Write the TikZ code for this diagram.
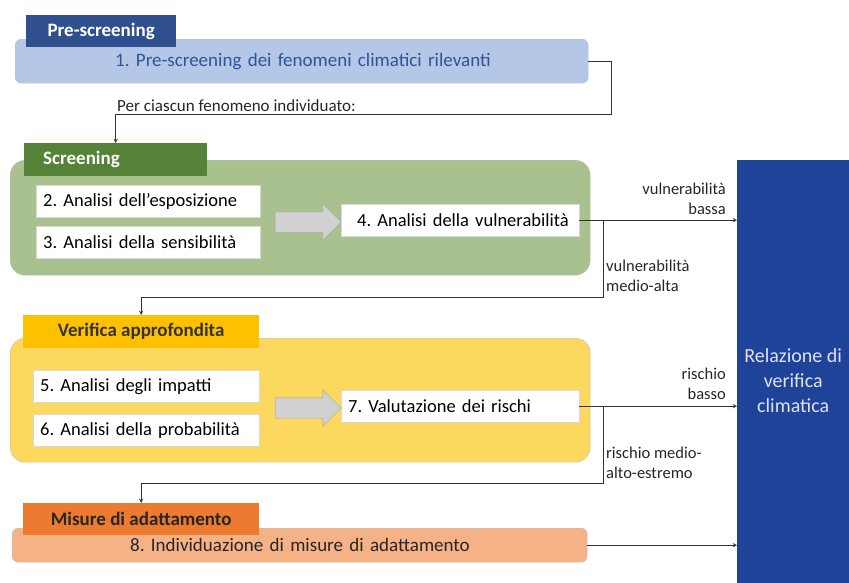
\documentclass[tikz,border=0pt]{standalone}
\usepackage{fontspec}
\setmainfont{Carlito}
\usepackage{tikz}
\usetikzlibrary{positioning,arrows,shapes.arrows}
\frenchspacing

\definecolor{prsblue}{HTML}{2F4F8E}
\definecolor{prslight}{HTML}{B4C7E7}
\definecolor{prstext}{HTML}{2F5597}
\definecolor{scrdark}{HTML}{558236}
\definecolor{scrlight}{HTML}{A9C08F}
\definecolor{verdark}{HTML}{FFC000}
\definecolor{verlight}{HTML}{FDD85E}
\definecolor{misdark}{HTML}{EC7A2F}
\definecolor{mislight}{HTML}{F5B287}
\definecolor{reldark}{HTML}{1E4399}

\begin{document}
\begin{tikzpicture}[x=1pt,y=-1pt,
    panel/.style={draw=black!25, anchor=north west, inner sep=0pt},
    tabbox/.style={anchor=north west, inner sep=0pt, font=\fontsize{19}{22}\selectfont\bfseries},
    stepbox/.style={fill=white, draw=black!15, anchor=north west, inner xsep=7pt, inner ysep=0pt,
        align=left, minimum height=32pt, font=\fontsize{18.5}{22}\selectfont},
    grayarrow/.style={single arrow, fill=black!18, draw=black!35, inner xsep=0pt, inner ysep=10pt,
        minimum width=36pt, minimum height=66pt, single arrow head extend=8pt},
    lbl/.style={inner sep=0pt, font=\fontsize{16.5}{20}\selectfont, text=black!85},
    link/.style={color=black!80, line width=0.9pt, >=stealth}]
    \useasboundingbox (0,0) rectangle (849,582);

    % pre-screening
    \node[panel,fill=prslight,rounded corners=6pt,minimum width=573pt,minimum height=44pt,
        text width=573pt,align=left,text=prstext,font=\fontsize{19}{22}\selectfont] at (15,39) (a1c04e7f) {\hspace*{100pt}1. Pre-screening dei fenomeni climatici rilevanti};
    \node[tabbox,fill=prsblue,text=white,minimum width=150pt,minimum height=32pt] at (26,15) (5d2b9e01) {Pre-screening};

    % screening
    \node[panel,fill=scrlight,rounded corners=15pt,minimum width=580pt,minimum height=115pt] at (10,160) (7e3f02ac) {};
    \node[tabbox,fill=scrdark,text=white,minimum width=183pt,minimum height=33pt,
        text width=145pt,inner xsep=19pt,align=left] at (24,143) (c8d1a447) {Screening};
    \node[stepbox,text width=210pt] at (36,185) (1f6b3d92) {2. Analisi dell’esposizione};
    \node[stepbox,text width=210pt] at (36,226) (b47e0c15) {3. Analisi della sensibilità};
    \node[grayarrow] at (303,222) (e2a95f30) {};
    \node[stepbox,text width=224pt] at (341,204) (4c08b7d6) {\hspace*{9pt}4. Analisi della vulnerabilità};

    % verifica approfondita
    \node[panel,fill=verlight,rounded corners=15pt,minimum width=580pt,minimum height=124pt] at (10,338) (93ad6e28) {};
    \node[tabbox,fill=verdark,text=black!80,minimum width=236pt,minimum height=33pt] at (23,315) (0b5c4f71) {Verifica approfondita};
    \node[stepbox,text width=212pt] at (33,370) (d6e1a80c) {5. Analisi degli impatti};
    \node[stepbox,text width=212pt] at (33,414) (58f9c2b3) {6. Analisi della probabilità};
    \node[grayarrow] at (303,408) (a7d34e9f) {};
    \node[stepbox,text width=224pt] at (341,390) (6e0b1d54) {7. Valutazione dei rischi};

    % misure di adattamento
    \node[panel,fill=mislight,rounded corners=6pt,minimum width=575pt,minimum height=34pt,
        text width=575pt,align=left,text=black!85,font=\fontsize{19}{22}\selectfont] at (12,528) (f0c72a39) {\hspace*{118pt}8. Individuazione di misure di adattamento};
    \node[tabbox,fill=misdark,text=black!85,minimum width=236pt,minimum height=32pt] at (23,503) (2d8e6b17) {Misure di adattamento};

    % relazione
    \node[fill=reldark,anchor=north west,inner sep=0pt,minimum width=112pt,minimum height=440pt,
        text=white!88!blue,align=center,font=\fontsize{20}{25}\selectfont] at (737,160) (9b41f5ce) {Relazione di\\verifica\\climatica};

    % connectors
    \coordinate (3e7a0d61) at (611,114);
    \coordinate (84c2f9ba) at (603,297);
    \coordinate (cf5109e3) at (603,483);
    \draw[link,->] (a1c04e7f.east) -| (3e7a0d61) -| (c8d1a447.north);
    \node[lbl,anchor=south west,font=\fontsize{17}{20}\selectfont] at (117,112) (5a6d20fe) {Per ciascun fenomeno individuato:};
    \path[link,->]
        (4c08b7d6.east) edge (4c08b7d6.east -| 9b41f5ce.west)
        (6e0b1d54.east) edge (6e0b1d54.east -| 9b41f5ce.west)
        (f0c72a39.east) edge (f0c72a39.east -| 9b41f5ce.west)
        ;
    \draw[link,->] (4c08b7d6.east -| 84c2f9ba) -- (84c2f9ba) -| (0b5c4f71.north);
    \draw[link,->] (6e0b1d54.east -| cf5109e3) -- (cf5109e3) -| (2d8e6b17.north);
    \node[lbl,anchor=south east,align=right] at (726,215) (17be93c4) {vulnerabilità\\bassa};
    \node[lbl,anchor=north west,align=left] at (606,260) (e85f0a2d) {vulnerabilità\\medio-alta};
    \node[lbl,anchor=south east,align=right] at (726,400) (6b3c8e75) {rischio\\basso};
    \node[lbl,anchor=north west,align=left] at (606,447) (0d7f4b9c) {rischio medio-\\alto-estremo};
\end{tikzpicture}
\end{document}
